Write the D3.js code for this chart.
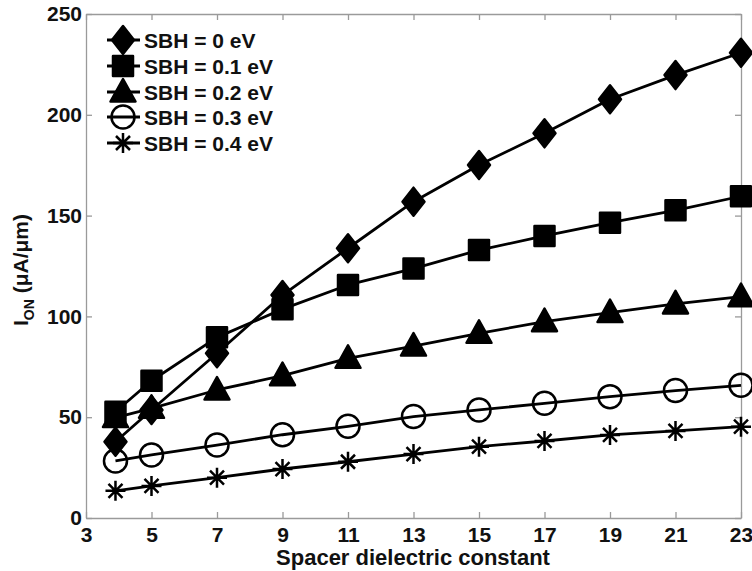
<!DOCTYPE html>
<html><head><meta charset="utf-8">
<script src="https://cdn.jsdelivr.net/npm/d3@7"></script>
<style>
html,body{margin:0;padding:0;background:#fff;}
svg{display:block;font-family:"Liberation Sans",Arial,sans-serif;font-weight:bold;}
</style></head>
<body>
<svg id="chart" width="752" height="571"></svg>
<script>
const xValues = [3.9, 5, 7, 9, 11, 13, 15, 17, 19, 21, 23];
const sbh0  = [37.8, 53.6, 81.7, 110.6, 133.8, 156.9, 175.1, 190.8, 207.7, 219.7, 230.8];
const sbh01 = [52.7, 68.1, 89.6, 103.6, 115.6, 123.7, 132.9, 139.9, 146.5, 152.6, 159.6];
const sbh02 = [49.8, 54.4, 63.5, 70.6, 79.2, 85.3, 91.6, 97.4, 101.9, 106.2, 109.8];
const sbh03 = [28.3, 31.3, 36.2, 41.3, 45.5, 50.3, 53.6, 56.9, 60.2, 63.2, 65.8];
const sbh04 = [13.5, 15.9, 20.0, 24.3, 27.9, 31.7, 35.4, 38.2, 41.2, 43.2, 45.3];
const seriesNames = ["SBH = 0 eV", "SBH = 0.1 eV", "SBH = 0.2 eV", "SBH = 0.3 eV", "SBH = 0.4 eV"];
const markerTypes = ["diamond", "square", "triangle", "circle", "star"];
const xTicks = [3, 5, 7, 9, 11, 13, 15, 17, 19, 21, 23];
const yTicks = [0, 50, 100, 150, 200, 250];
const xLabel = "Spacer dielectric constant";

const series = [sbh0, sbh01, sbh02, sbh03, sbh04].map((vals, i) => ({
  name: seriesNames[i], marker: markerTypes[i],
  points: vals.map((v, j) => ({x: xValues[j], y: v}))
}));

const svg = d3.select("#chart");
const L = 86, R = 741, T = 14, B = 518;
const FS = 21;
const x = d3.scaleLinear().domain([3, 23]).range([L, R]);
const y = d3.scaleLinear().domain([0, 250]).range([B, T]);
const axisColor = "#9a9a9a";

function styleAxis(g) {
  g.select(".domain").attr("stroke", axisColor).attr("stroke-width", 1.3);
  g.selectAll(".tick line").attr("stroke", axisColor).attr("stroke-width", 1.3);
  g.selectAll(".tick text").attr("fill", "#111").attr("font-size", FS).attr("font-weight", "bold")
    .attr("font-family", "'Liberation Sans', Arial, sans-serif");
}

// bottom axis
svg.append("g").attr("transform", `translate(0,${B})`)
  .call(d3.axisBottom(x).tickValues(xTicks).tickSizeInner(-6).tickSizeOuter(0).tickPadding(9))
  .call(styleAxis);
// top axis (ticks only)
svg.append("g").attr("transform", `translate(0,${T})`)
  .call(d3.axisTop(x).tickValues(xTicks).tickSizeInner(-6).tickSizeOuter(0).tickFormat(""))
  .call(styleAxis);
// left axis
svg.append("g").attr("transform", `translate(${L},0)`)
  .call(d3.axisLeft(y).tickValues(yTicks).tickSizeInner(-6).tickSizeOuter(0).tickPadding(4))
  .call(styleAxis);
// right axis
svg.append("g").attr("transform", `translate(${R},0)`)
  .call(d3.axisRight(y).tickValues(yTicks).tickSizeInner(-6).tickSizeOuter(0).tickFormat(""))
  .call(styleAxis);

// axis labels
svg.append("text").attr("x", 413).attr("y", 565).attr("text-anchor", "middle")
  .attr("font-size", 22).attr("fill", "#111").text(xLabel);
const yl = svg.append("text").attr("transform", `translate(28,${(T + B) / 2 + 4}) rotate(-90)`)
  .attr("text-anchor", "middle").attr("font-size", FS).attr("fill", "#111");
yl.append("tspan").text("I");
yl.append("tspan").attr("font-size", 14).attr("dy", 6).text("ON");
yl.append("tspan").attr("dy", -6).text(" (μA/μm)");

// markers
function markerPath(type) {
  switch (type) {
    case "diamond": return "M0,-14L11,0L0,14L-11,0Z";
    case "square": return "M-10,-10H10V10H-10Z";
    case "triangle": return "M0,-13L12.5,9.5H-12.5Z";
    case "circle": return d3.arc()({innerRadius: 0, outerRadius: 11.5, startAngle: 0, endAngle: 2 * Math.PI});
    case "star": return "M-10,0H10M0,-10V10M-7,-7L7,7M-7,7L7,-7";
  }
}
function drawMarker(g, type) {
  const p = g.append("path").attr("d", markerPath(type)).attr("stroke", "#000").attr("stroke-width", 2.5)
    .attr("stroke-linejoin", "round");
  if (type === "circle" || type === "star") p.attr("fill", "none");
  else p.attr("fill", "#000");
}

const line = d3.line().x(d => x(d.x)).y(d => y(d.y));
series.forEach(s => {
  svg.append("path").datum(s.points).attr("d", line).attr("fill", "none")
    .attr("stroke", "#000").attr("stroke-width", 2.8).attr("stroke-linejoin", "round");
  s.points.forEach(p => {
    const g = svg.append("g").attr("transform", `translate(${x(p.x)},${y(p.y)})`);
    drawMarker(g, s.marker);
  });
});

// legend
const legendRows = [40, 66, 92, 117, 143];
series.forEach((s, i) => {
  const g = svg.append("g").attr("transform", `translate(0,${legendRows[i]})`);
  g.append("line").attr("x1", 107).attr("x2", 140).attr("y1", 0).attr("y2", 0)
    .attr("stroke", "#000").attr("stroke-width", 2.8);
  const m = g.append("g").attr("transform", "translate(123,0)");
  drawMarker(m, s.marker);
  g.append("text").attr("x", 144).attr("y", 7.5).attr("font-size", FS).attr("fill", "#111").text(s.name);
});
</script>
</body></html>
